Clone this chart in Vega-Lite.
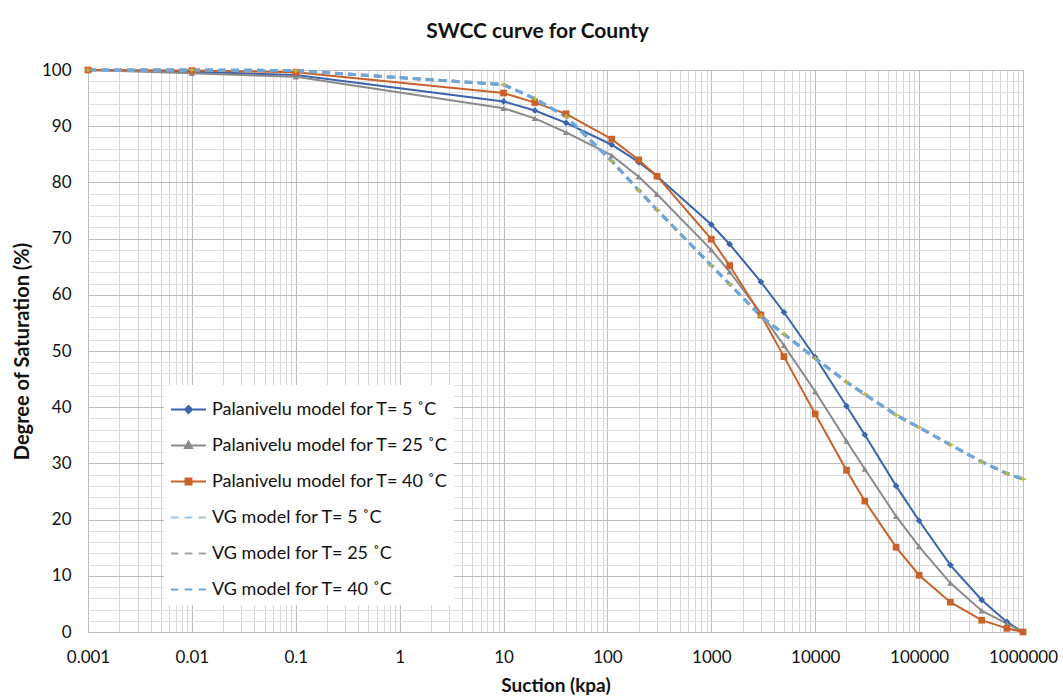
{
  "$schema": "https://vega.github.io/schema/vega-lite/v6.json",
  "autosize": {"type": "none"},
  "width": 935,
  "height": 562,
  "padding": {"left": 88, "top": 70, "right": 40, "bottom": 66},
  "background": "white",
  "config": {
    "font": "Lato",
    "view": {"stroke": null},
    "axis": {"labelFont": "Lato", "titleFont": "Lato", "labelColor": "#111", "titleColor": "#111"}
  },
  "title": {
    "text": "SWCC curve for County",
    "font": "Lato",
    "fontSize": 21,
    "fontWeight": "bold",
    "color": "#111",
    "anchor": "middle",
    "frame": "group",
    "dx": -18,
    "baseline": "alphabetic",
    "offset": 2
  },
  "datasets": {
    "swcc": [
      {"series": "Palanivelu model for T= 5 ˚C", "suction": 0.001, "saturation": 100},
      {"series": "Palanivelu model for T= 5 ˚C", "suction": 0.01, "saturation": 99.7},
      {"series": "Palanivelu model for T= 5 ˚C", "suction": 0.1, "saturation": 99.1},
      {"series": "Palanivelu model for T= 5 ˚C", "suction": 10, "saturation": 94.4},
      {"series": "Palanivelu model for T= 5 ˚C", "suction": 20, "saturation": 92.8},
      {"series": "Palanivelu model for T= 5 ˚C", "suction": 40, "saturation": 90.6},
      {"series": "Palanivelu model for T= 5 ˚C", "suction": 110, "saturation": 86.7},
      {"series": "Palanivelu model for T= 5 ˚C", "suction": 200, "saturation": 83.6},
      {"series": "Palanivelu model for T= 5 ˚C", "suction": 300, "saturation": 81.1},
      {"series": "Palanivelu model for T= 5 ˚C", "suction": 1000, "saturation": 72.5},
      {"series": "Palanivelu model for T= 5 ˚C", "suction": 1500, "saturation": 69.0},
      {"series": "Palanivelu model for T= 5 ˚C", "suction": 3000, "saturation": 62.3},
      {"series": "Palanivelu model for T= 5 ˚C", "suction": 5000, "saturation": 56.9},
      {"series": "Palanivelu model for T= 5 ˚C", "suction": 10000, "saturation": 48.9},
      {"series": "Palanivelu model for T= 5 ˚C", "suction": 20000, "saturation": 40.2},
      {"series": "Palanivelu model for T= 5 ˚C", "suction": 30000, "saturation": 35.1},
      {"series": "Palanivelu model for T= 5 ˚C", "suction": 60000, "saturation": 26.0},
      {"series": "Palanivelu model for T= 5 ˚C", "suction": 100000, "saturation": 19.8},
      {"series": "Palanivelu model for T= 5 ˚C", "suction": 200000, "saturation": 11.9},
      {"series": "Palanivelu model for T= 5 ˚C", "suction": 400000, "saturation": 5.7},
      {"series": "Palanivelu model for T= 5 ˚C", "suction": 700000, "saturation": 1.8},
      {"series": "Palanivelu model for T= 5 ˚C", "suction": 1000000, "saturation": 0},
      {"series": "Palanivelu model for T= 25 ˚C", "suction": 0.001, "saturation": 100},
      {"series": "Palanivelu model for T= 25 ˚C", "suction": 0.01, "saturation": 99.4},
      {"series": "Palanivelu model for T= 25 ˚C", "suction": 0.1, "saturation": 98.8},
      {"series": "Palanivelu model for T= 25 ˚C", "suction": 10, "saturation": 93.2},
      {"series": "Palanivelu model for T= 25 ˚C", "suction": 20, "saturation": 91.4},
      {"series": "Palanivelu model for T= 25 ˚C", "suction": 40, "saturation": 88.9},
      {"series": "Palanivelu model for T= 25 ˚C", "suction": 110, "saturation": 84.8},
      {"series": "Palanivelu model for T= 25 ˚C", "suction": 200, "saturation": 81.0},
      {"series": "Palanivelu model for T= 25 ˚C", "suction": 300, "saturation": 77.9},
      {"series": "Palanivelu model for T= 25 ˚C", "suction": 1000, "saturation": 68.0},
      {"series": "Palanivelu model for T= 25 ˚C", "suction": 1500, "saturation": 64.1},
      {"series": "Palanivelu model for T= 25 ˚C", "suction": 3000, "saturation": 56.7},
      {"series": "Palanivelu model for T= 25 ˚C", "suction": 5000, "saturation": 51.0},
      {"series": "Palanivelu model for T= 25 ˚C", "suction": 10000, "saturation": 42.8},
      {"series": "Palanivelu model for T= 25 ˚C", "suction": 20000, "saturation": 34.0},
      {"series": "Palanivelu model for T= 25 ˚C", "suction": 30000, "saturation": 29.0},
      {"series": "Palanivelu model for T= 25 ˚C", "suction": 60000, "saturation": 20.6},
      {"series": "Palanivelu model for T= 25 ˚C", "suction": 100000, "saturation": 15.2},
      {"series": "Palanivelu model for T= 25 ˚C", "suction": 200000, "saturation": 8.7},
      {"series": "Palanivelu model for T= 25 ˚C", "suction": 400000, "saturation": 3.8},
      {"series": "Palanivelu model for T= 25 ˚C", "suction": 700000, "saturation": 1.5},
      {"series": "Palanivelu model for T= 25 ˚C", "suction": 1000000, "saturation": 0},
      {"series": "Palanivelu model for T= 40 ˚C", "suction": 0.001, "saturation": 100},
      {"series": "Palanivelu model for T= 40 ˚C", "suction": 0.01, "saturation": 99.9},
      {"series": "Palanivelu model for T= 40 ˚C", "suction": 0.1, "saturation": 99.6},
      {"series": "Palanivelu model for T= 40 ˚C", "suction": 10, "saturation": 95.9},
      {"series": "Palanivelu model for T= 40 ˚C", "suction": 20, "saturation": 94.2},
      {"series": "Palanivelu model for T= 40 ˚C", "suction": 40, "saturation": 92.2},
      {"series": "Palanivelu model for T= 40 ˚C", "suction": 110, "saturation": 87.7},
      {"series": "Palanivelu model for T= 40 ˚C", "suction": 200, "saturation": 84.0},
      {"series": "Palanivelu model for T= 40 ˚C", "suction": 300, "saturation": 81.1},
      {"series": "Palanivelu model for T= 40 ˚C", "suction": 1000, "saturation": 69.9},
      {"series": "Palanivelu model for T= 40 ˚C", "suction": 1500, "saturation": 65.2},
      {"series": "Palanivelu model for T= 40 ˚C", "suction": 3000, "saturation": 56.4},
      {"series": "Palanivelu model for T= 40 ˚C", "suction": 5000, "saturation": 49.0},
      {"series": "Palanivelu model for T= 40 ˚C", "suction": 10000, "saturation": 38.8},
      {"series": "Palanivelu model for T= 40 ˚C", "suction": 20000, "saturation": 28.8},
      {"series": "Palanivelu model for T= 40 ˚C", "suction": 30000, "saturation": 23.3},
      {"series": "Palanivelu model for T= 40 ˚C", "suction": 60000, "saturation": 15.1},
      {"series": "Palanivelu model for T= 40 ˚C", "suction": 100000, "saturation": 10.1},
      {"series": "Palanivelu model for T= 40 ˚C", "suction": 200000, "saturation": 5.3},
      {"series": "Palanivelu model for T= 40 ˚C", "suction": 400000, "saturation": 2.1},
      {"series": "Palanivelu model for T= 40 ˚C", "suction": 700000, "saturation": 0.65},
      {"series": "Palanivelu model for T= 40 ˚C", "suction": 1000000, "saturation": 0},
      {"series": "VG model for T= 5 ˚C", "suction": 0.001, "saturation": 100},
      {"series": "VG model for T= 5 ˚C", "suction": 0.01, "saturation": 100},
      {"series": "VG model for T= 5 ˚C", "suction": 0.1, "saturation": 99.9},
      {"series": "VG model for T= 5 ˚C", "suction": 10, "saturation": 97.4},
      {"series": "VG model for T= 5 ˚C", "suction": 20, "saturation": 94.9},
      {"series": "VG model for T= 5 ˚C", "suction": 40, "saturation": 91.7},
      {"series": "VG model for T= 5 ˚C", "suction": 110, "saturation": 83.8},
      {"series": "VG model for T= 5 ˚C", "suction": 200, "saturation": 78.6},
      {"series": "VG model for T= 5 ˚C", "suction": 300, "saturation": 75.1},
      {"series": "VG model for T= 5 ˚C", "suction": 1000, "saturation": 65.2},
      {"series": "VG model for T= 5 ˚C", "suction": 1500, "saturation": 61.9},
      {"series": "VG model for T= 5 ˚C", "suction": 3000, "saturation": 56.2},
      {"series": "VG model for T= 5 ˚C", "suction": 5000, "saturation": 53.0},
      {"series": "VG model for T= 5 ˚C", "suction": 10000, "saturation": 48.7},
      {"series": "VG model for T= 5 ˚C", "suction": 20000, "saturation": 44.5},
      {"series": "VG model for T= 5 ˚C", "suction": 30000, "saturation": 42.3},
      {"series": "VG model for T= 5 ˚C", "suction": 60000, "saturation": 38.6},
      {"series": "VG model for T= 5 ˚C", "suction": 100000, "saturation": 36.4},
      {"series": "VG model for T= 5 ˚C", "suction": 200000, "saturation": 33.3},
      {"series": "VG model for T= 5 ˚C", "suction": 400000, "saturation": 30.3},
      {"series": "VG model for T= 5 ˚C", "suction": 700000, "saturation": 28.2},
      {"series": "VG model for T= 5 ˚C", "suction": 1000000, "saturation": 27.2},
      {"series": "VG model for T= 25 ˚C", "suction": 0.001, "saturation": 100},
      {"series": "VG model for T= 25 ˚C", "suction": 0.01, "saturation": 100},
      {"series": "VG model for T= 25 ˚C", "suction": 0.1, "saturation": 99.9},
      {"series": "VG model for T= 25 ˚C", "suction": 10, "saturation": 97.4},
      {"series": "VG model for T= 25 ˚C", "suction": 20, "saturation": 94.9},
      {"series": "VG model for T= 25 ˚C", "suction": 40, "saturation": 91.7},
      {"series": "VG model for T= 25 ˚C", "suction": 110, "saturation": 83.8},
      {"series": "VG model for T= 25 ˚C", "suction": 200, "saturation": 78.6},
      {"series": "VG model for T= 25 ˚C", "suction": 300, "saturation": 75.1},
      {"series": "VG model for T= 25 ˚C", "suction": 1000, "saturation": 65.2},
      {"series": "VG model for T= 25 ˚C", "suction": 1500, "saturation": 61.9},
      {"series": "VG model for T= 25 ˚C", "suction": 3000, "saturation": 56.2},
      {"series": "VG model for T= 25 ˚C", "suction": 5000, "saturation": 53.0},
      {"series": "VG model for T= 25 ˚C", "suction": 10000, "saturation": 48.7},
      {"series": "VG model for T= 25 ˚C", "suction": 20000, "saturation": 44.5},
      {"series": "VG model for T= 25 ˚C", "suction": 30000, "saturation": 42.3},
      {"series": "VG model for T= 25 ˚C", "suction": 60000, "saturation": 38.6},
      {"series": "VG model for T= 25 ˚C", "suction": 100000, "saturation": 36.4},
      {"series": "VG model for T= 25 ˚C", "suction": 200000, "saturation": 33.3},
      {"series": "VG model for T= 25 ˚C", "suction": 400000, "saturation": 30.3},
      {"series": "VG model for T= 25 ˚C", "suction": 700000, "saturation": 28.2},
      {"series": "VG model for T= 25 ˚C", "suction": 1000000, "saturation": 27.2},
      {"series": "VG model for T= 40 ˚C", "suction": 0.001, "saturation": 100},
      {"series": "VG model for T= 40 ˚C", "suction": 0.01, "saturation": 100},
      {"series": "VG model for T= 40 ˚C", "suction": 0.1, "saturation": 99.9},
      {"series": "VG model for T= 40 ˚C", "suction": 10, "saturation": 97.4},
      {"series": "VG model for T= 40 ˚C", "suction": 20, "saturation": 94.9},
      {"series": "VG model for T= 40 ˚C", "suction": 40, "saturation": 91.7},
      {"series": "VG model for T= 40 ˚C", "suction": 110, "saturation": 83.8},
      {"series": "VG model for T= 40 ˚C", "suction": 200, "saturation": 78.6},
      {"series": "VG model for T= 40 ˚C", "suction": 300, "saturation": 75.1},
      {"series": "VG model for T= 40 ˚C", "suction": 1000, "saturation": 65.2},
      {"series": "VG model for T= 40 ˚C", "suction": 1500, "saturation": 61.9},
      {"series": "VG model for T= 40 ˚C", "suction": 3000, "saturation": 56.2},
      {"series": "VG model for T= 40 ˚C", "suction": 5000, "saturation": 53.0},
      {"series": "VG model for T= 40 ˚C", "suction": 10000, "saturation": 48.7},
      {"series": "VG model for T= 40 ˚C", "suction": 20000, "saturation": 44.5},
      {"series": "VG model for T= 40 ˚C", "suction": 30000, "saturation": 42.3},
      {"series": "VG model for T= 40 ˚C", "suction": 60000, "saturation": 38.6},
      {"series": "VG model for T= 40 ˚C", "suction": 100000, "saturation": 36.4},
      {"series": "VG model for T= 40 ˚C", "suction": 200000, "saturation": 33.3},
      {"series": "VG model for T= 40 ˚C", "suction": 400000, "saturation": 30.3},
      {"series": "VG model for T= 40 ˚C", "suction": 700000, "saturation": 28.2},
      {"series": "VG model for T= 40 ˚C", "suction": 1000000, "saturation": 27.2}
    ]
  },
  "data": {"name": "swcc"},
  "encoding": {
    "x": {
      "field": "suction",
      "type": "quantitative",
      "scale": {"type": "log", "domain": [0.001, 1000000], "nice": false},
      "axis": {
        "title": "Suction (kpa)",
        "titleFontSize": 19,
        "titleFontWeight": "bold",
        "titlePadding": 11,
        "values": [0.001, 0.002, 0.003, 0.004, 0.005, 0.006, 0.007, 0.008, 0.009,
                   0.01, 0.02, 0.03, 0.04, 0.05, 0.06, 0.07, 0.08, 0.09,
                   0.1, 0.2, 0.3, 0.4, 0.5, 0.6, 0.7, 0.8, 0.9,
                   1, 2, 3, 4, 5, 6, 7, 8, 9,
                   10, 20, 30, 40, 50, 60, 70, 80, 90,
                   100, 200, 300, 400, 500, 600, 700, 800, 900,
                   1000, 2000, 3000, 4000, 5000, 6000, 7000, 8000, 9000,
                   10000, 20000, 30000, 40000, 50000, 60000, 70000, 80000, 90000,
                   100000, 200000, 300000, 400000, 500000, 600000, 700000, 800000, 900000,
                   1000000],
        "labelExpr": "abs(log(datum.value) / LN10 - round(log(datum.value) / LN10)) < 1e-6 ? format(datum.value, '') : ''",
        "labelFontSize": 17,
        "labelPadding": 17,
        "labelOverlap": false,
        "labelFlush": false,
        "ticks": false,
        "tickSize": 0,
        "domain": false,
        "grid": true,
        "gridWidth": 1,
        "gridColor": {
          "condition": {"test": "abs(log(datum.value) / LN10 - round(log(datum.value) / LN10)) < 1e-6", "value": "#BDBDBD"},
          "value": "#D6D6D6"
        }
      }
    },
    "y": {
      "field": "saturation",
      "type": "quantitative",
      "scale": {"domain": [0, 100], "nice": false},
      "axis": {
        "title": "Degree of Saturation (%)",
        "titleFontSize": 20,
        "titleFontWeight": "bold",
        "titlePadding": 9,
        "values": [0, 2, 4, 6, 8, 10, 12, 14, 16, 18, 20, 22, 24, 26, 28, 30, 32, 34, 36, 38, 40,
                   42, 44, 46, 48, 50, 52, 54, 56, 58, 60, 62, 64, 66, 68, 70, 72, 74, 76, 78, 80,
                   82, 84, 86, 88, 90, 92, 94, 96, 98, 100],
        "labelExpr": "datum.value % 10 === 0 ? datum.label : ''",
        "labelFontSize": 17,
        "labelPadding": 17,
        "labelOverlap": false,
        "labelFlush": false,
        "ticks": false,
        "tickSize": 0,
        "domain": false,
        "grid": true,
        "gridWidth": 1,
        "gridColor": {
          "condition": {"test": "datum.value % 10 === 0", "value": "#BDBDBD"},
          "value": "#DEDEDE"
        }
      }
    }
  },
  "layer": [
    {
      "transform": [{"filter": {"field": "series", "oneOf": ["Palanivelu model for T= 5 ˚C", "Palanivelu model for T= 25 ˚C", "Palanivelu model for T= 40 ˚C"]}}],
      "mark": {"type": "line", "strokeWidth": 2},
      "encoding": {
        "stroke": {"field": "series", "type": "nominal", "legend": null,
          "scale": {
            "domain": ["VG model for T= 40 ˚C", "VG model for T= 25 ˚C", "VG model for T= 5 ˚C", "Palanivelu model for T= 40 ˚C", "Palanivelu model for T= 25 ˚C", "Palanivelu model for T= 5 ˚C"],
            "range": ["#6CA6DA", "#A5A5A5", "#9DC3E6", "#C8622A", "#8A8A8A", "#3B64AE"]
          }
        }
      }
    },
    {
      "transform": [{"filter": {"field": "series", "oneOf": ["VG model for T= 5 ˚C", "VG model for T= 25 ˚C", "VG model for T= 40 ˚C"]}}],
      "mark": {"type": "line", "strokeWidth": 3, "strokeDash": [8, 5]},
      "encoding": {"stroke": {"field": "series", "type": "nominal", "legend": null}}
    },
    {
      "transform": [{"filter": {"field": "series", "equal": "Palanivelu model for T= 5 ˚C"}}],
      "mark": {"type": "point", "shape": "diamond", "filled": true, "size": 45, "opacity": 1, "fill": "#3B64AE"}
    },
    {
      "transform": [{"filter": {"field": "series", "equal": "Palanivelu model for T= 25 ˚C"}}],
      "mark": {"type": "point", "shape": "triangle-up", "filled": true, "size": 40, "opacity": 1, "fill": "#8A8A8A"}
    },
    {
      "transform": [{"filter": {"field": "series", "equal": "Palanivelu model for T= 40 ˚C"}}],
      "mark": {"type": "point", "shape": "square", "filled": true, "size": 45, "opacity": 1, "fill": "#C8622A"}
    },
    {
      "transform": [{"filter": {"field": "series", "equal": "VG model for T= 25 ˚C"}}],
      "mark": {"type": "point", "shape": "cross", "filled": true, "size": 22, "opacity": 0.8, "fill": "#F2B233"}
    },
    {
      "transform": [{"filter": {"field": "series", "equal": "VG model for T= 40 ˚C"}}],
      "mark": {"type": "point", "shape": "stroke", "filled": false, "size": 40, "strokeWidth": 1.5, "opacity": 0.8, "stroke": "#8DBB5E"}
    },
    {
      "transform": [{"filter": {"field": "suction", "equal": 0.001}}],
      "mark": {"type": "point", "filled": true, "opacity": 0},
      "encoding": {
        "color": {
          "field": "series",
          "type": "nominal",
          "scale": {
            "domain": ["Palanivelu model for T= 5 ˚C", "Palanivelu model for T= 25 ˚C", "Palanivelu model for T= 40 ˚C", "VG model for T= 5 ˚C", "VG model for T= 25 ˚C", "VG model for T= 40 ˚C"],
            "range": ["#3B64AE", "#8A8A8A", "#C8622A", "#9DC3E6", "#A5A5A5", "#6CA6DA"]
          },
          "legend": {
            "title": null,
            "orient": "none",
            "legendX": 76,
            "legendY": 315,
            "padding": 6,
            "fillColor": "white",
            "labelFont": "Lato",
            "labelFontSize": 18,
            "labelColor": "#111",
            "labelOffset": 5,
            "labelLimit": 400,
            "symbolSize": 1225,
            "symbolStrokeWidth": 2,
            "symbolOpacity": 1,
            "rowPadding": 8,
            "encode": {
              "symbols": {
                "update": {
                  "stroke": {"scale": "color", "field": "value"},
                  "strokeWidth": {"value": 2},
                  "opacity": {"value": 1}
                }
              }
            }
          }
        },
        "shape": {
          "field": "series",
          "type": "nominal",
          "scale": {
            "domain": ["Palanivelu model for T= 5 ˚C", "Palanivelu model for T= 25 ˚C", "Palanivelu model for T= 40 ˚C", "VG model for T= 5 ˚C", "VG model for T= 25 ˚C", "VG model for T= 40 ˚C"],
            "range": [
              "M-1,0H1M0,-0.2L0.2,0L0,0.2L-0.2,0Z",
              "M-1,0H1M0,-0.22L0.2,0.14L-0.2,0.14Z",
              "M-1,0H1M-0.17,-0.17H0.17V0.17H-0.17Z",
              "M-1,0H-0.58M-0.22,0H0.22M0.58,0H1",
              "M-1,0H-0.58M-0.22,0H0.22M0.58,0H1",
              "M-1,0H-0.58M-0.22,0H0.22M0.58,0H1"
            ]
          },
          "legend": {
            "title": null,
            "orient": "none",
            "legendX": 76,
            "legendY": 315,
            "padding": 6,
            "fillColor": "white",
            "labelFont": "Lato",
            "labelFontSize": 18,
            "labelColor": "#111",
            "labelOffset": 5,
            "labelLimit": 400,
            "symbolSize": 1225,
            "symbolStrokeWidth": 2,
            "symbolOpacity": 1,
            "rowPadding": 8,
            "encode": {
              "symbols": {
                "update": {
                  "stroke": {"scale": "color", "field": "value"},
                  "strokeWidth": {"value": 2},
                  "opacity": {"value": 1}
                }
              }
            }
          }
        }
      }
    }
  ]
}
